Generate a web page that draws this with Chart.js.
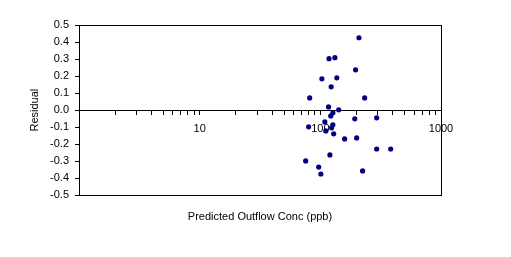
<!DOCTYPE html>
<html>
<head>
<meta charset="utf-8">
<script src="https://cdn.jsdelivr.net/npm/chart.js@4/dist/chart.umd.min.js"></script>
<style>
  html, body { margin: 0; padding: 0; background: #fff; }
  #wrap { width: 511px; height: 257px; }
</style>
</head>
<body>
<div id="wrap"><canvas id="chart"></canvas></div>
<script>
// ── Data ───────────────────────────────────────────────────
const predicted = [209, 118, 132, 196, 103, 137, 123, 81.6, 233, 117,
                   142, 127, 122, 193, 293, 109, 127, 80, 124, 111,
                   129, 159, 200, 293, 383, 120, 75.6, 96.9, 101, 224];
const residual  = [0.425, 0.302, 0.308, 0.237, 0.184, 0.190, 0.137, 0.072, 0.072, 0.019,
                   0.002, -0.016, -0.034, -0.051, -0.045, -0.069, -0.086, -0.098, -0.104, -0.122,
                   -0.139, -0.169, -0.163, -0.228, -0.228, -0.263, -0.298, -0.334, -0.375, -0.357];

const xTicks = [1, 2, 3, 4, 5, 6, 7, 8, 9,
                10, 20, 30, 40, 50, 60, 70, 80, 90,
                100, 200, 300, 400, 500, 600, 700, 800, 900, 1000];
const xLabeled = [10, 100, 1000];

const FONT = { family: "'Liberation Sans', Arial, sans-serif", size: 11 };

// ── Plot frame ─────────────────────────────────────────────
const frame = {
  id: "frame",
  afterDatasetsDraw(chart) {
    const { ctx, chartArea: a } = chart;
    ctx.save();
    ctx.strokeStyle = "#000";
    ctx.lineWidth = 1;
    ctx.strokeRect(Math.round(a.left) + 0.5, Math.round(a.top) + 0.5,
                   Math.round(a.right - a.left), Math.round(a.bottom - a.top));
    ctx.restore();
  },
};

new Chart(document.getElementById("chart"), {
  type: "scatter",
  data: {
    datasets: [{
      data: predicted.map((x, i) => ({ x, y: residual[i] })),
      backgroundColor: "#000080",
      borderColor: "#000080",
      borderWidth: 0,
      pointStyle: "circle",
      pointRadius: 2.6,
    }],
  },
  options: {
    responsive: true,
    maintainAspectRatio: false,
    animation: false,
    layout: { padding: { top: 25, left: 0, right: 70, bottom: 33 } },
    plugins: {
      legend: { display: false },
      tooltip: { enabled: false },
      title: {
        display: true,
        fullSize: false,
        position: "bottom",
        text: "Predicted Outflow Conc (ppb)",
        color: "#000",
        font: { ...FONT, weight: "normal" },
        padding: { top: 15.5, bottom: 0 },
      },
    },
    scales: {
      x: {
        type: "logarithmic",
        position: { y: 0 },
        min: 1,
        max: 1000,
        afterBuildTicks: (s) => { s.ticks = xTicks.map((v) => ({ value: v })); },
        grid: { drawOnChartArea: false, tickLength: 4, color: "#000" },
        border: { color: "#000" },
        ticks: {
          autoSkip: false,
          maxRotation: 0,
          padding: 8,
          color: "#000",
          font: FONT,
          callback: (v) => (xLabeled.includes(v) ? String(v) : ""),
        },
      },
      y: {
        min: -0.5,
        max: 0.5,
        afterFit: (s) => { s.width = 79; },
        grid: { drawOnChartArea: false, tickLength: 4, color: "#000" },
        border: { color: "#000" },
        ticks: {
          stepSize: 0.1,
          padding: 6,
          color: "#000",
          font: FONT,
          callback: (v) => Number(v).toFixed(1),
        },
        title: {
          display: true,
          text: "Residual",
          color: "#000",
          font: FONT,
          padding: { top: 28, bottom: 0 },
        },
      },
    },
  },
  plugins: [frame],
});
</script>
</body>
</html>
